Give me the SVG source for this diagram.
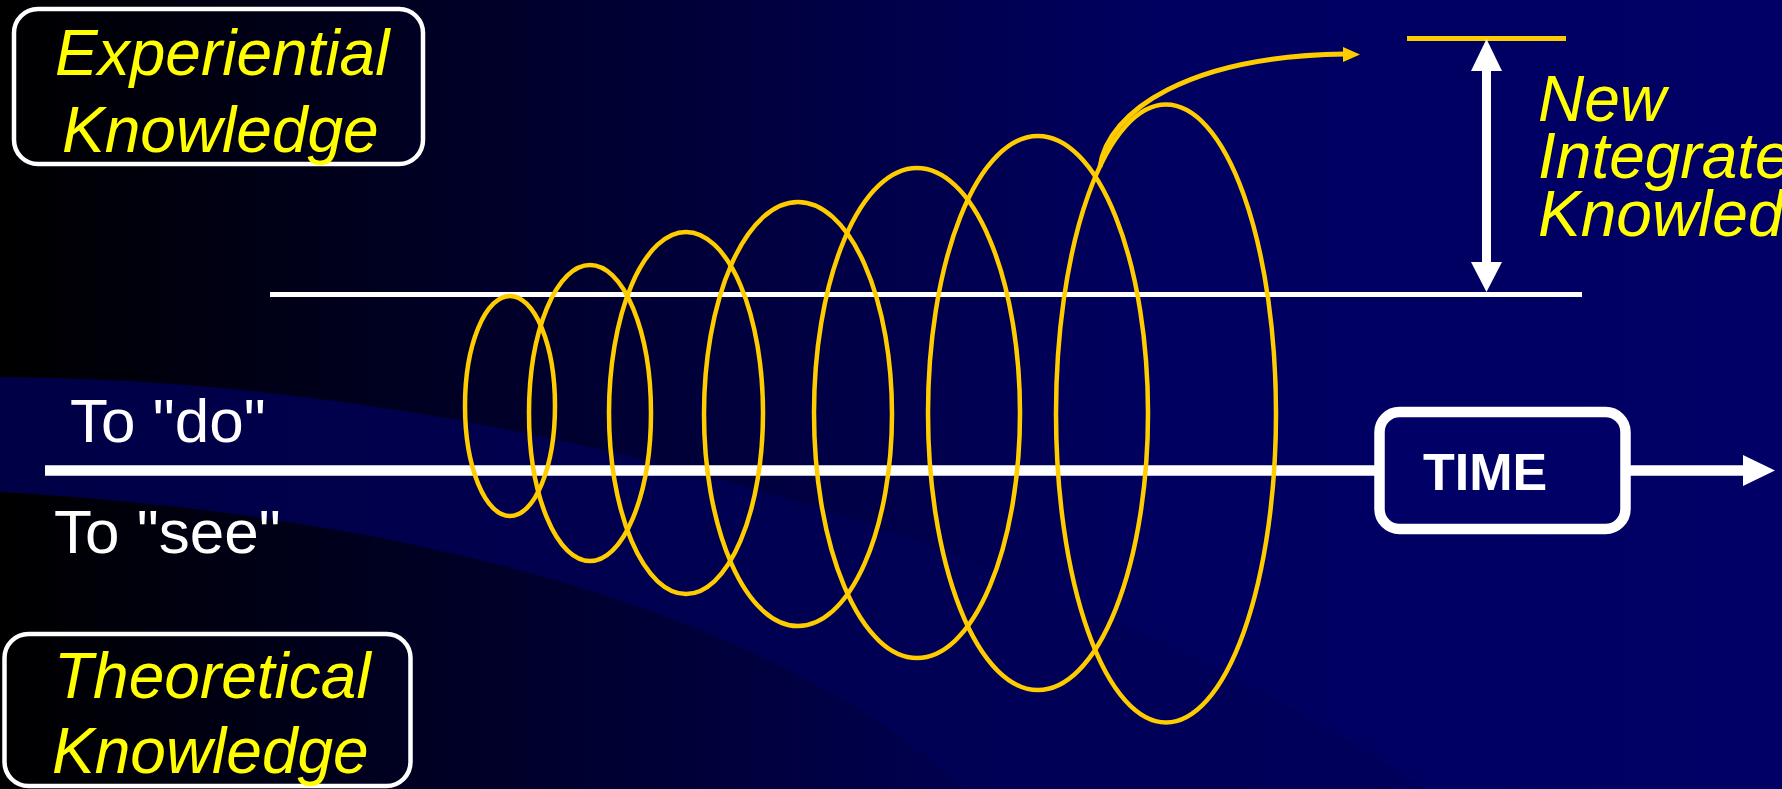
<svg xmlns="http://www.w3.org/2000/svg" width="1782" height="789" viewBox="0 0 1782 789">
<defs>
<linearGradient id="bg" x1="0" y1="0" x2="1" y2="0">
<stop offset="0" stop-color="#000000"/>
<stop offset="0.65" stop-color="#000060"/>
<stop offset="1" stop-color="#000066"/>
</linearGradient>
<linearGradient id="band" gradientUnits="userSpaceOnUse" x1="0" y1="0" x2="1426" y2="0">
<stop offset="0" stop-color="#000046"/>
<stop offset="1" stop-color="#00005c"/>
</linearGradient>
<style>
.spiral{fill:none;stroke:#FFCC00;stroke-width:4.5}
.box{fill:none;stroke:#FFFFFF;stroke-width:4.5}
.ytxt{fill:#FFFF00;font-family:"Liberation Sans",Arial,sans-serif;font-style:italic;font-size:64px}
.wtxt{fill:#FFFFFF;font-family:"Liberation Sans",Arial,sans-serif;font-size:62px}
</style>
</defs>
<rect x="0" y="0" width="1782" height="789" fill="url(#bg)"/>
<path d="M0,377 C500,380 1050,540 1426,789 L963,789 C820,650 500,520 0,492 Z" fill="url(#band)"/>

<g id="connectors">
<line x1="270" y1="294.5" x2="1582" y2="294.5" stroke="#FFFFFF" stroke-width="5"/>
<line x1="45" y1="470.5" x2="1745" y2="470.5" stroke="#FFFFFF" stroke-width="10.5"/>
<polygon points="1743,455 1775,470.5 1743,486" fill="#FFFFFF"/>
<line x1="1407" y1="38.5" x2="1566" y2="38.5" stroke="#FFCC00" stroke-width="5"/>
<line x1="1486.5" y1="68" x2="1486.5" y2="265" stroke="#FFFFFF" stroke-width="9"/>
<polygon points="1486.5,39 1471,71 1502,71" fill="#FFFFFF"/>
<polygon points="1471,262 1502,262 1486.5,292" fill="#FFFFFF"/>
</g>

<g id="spiral">
<ellipse class="spiral" cx="510" cy="406" rx="45" ry="110"/>
<ellipse class="spiral" cx="590" cy="413" rx="61" ry="148"/>
<ellipse class="spiral" cx="686" cy="413" rx="77" ry="181"/>
<ellipse class="spiral" cx="798" cy="414" rx="94" ry="212"/>
<ellipse class="spiral" cx="917" cy="413" rx="103" ry="245"/>
<ellipse class="spiral" cx="1038" cy="413" rx="110" ry="277"/>
<ellipse class="spiral" cx="1166" cy="413.5" rx="110" ry="309"/>
<path d="M1100,167 C1108,110 1190,56 1345,54" fill="none" stroke="#FFCC00" stroke-width="5"/>
<polygon points="1343,47 1360,54.5 1343,62" fill="#FFCC00"/>
</g>

<g id="experiential">
<rect class="box" x="14" y="9" width="409" height="155" rx="24"/>
<text class="ytxt" x="55" y="75">Experiential</text>
<text class="ytxt" x="62" y="152">Knowledge</text>
</g>

<g id="theoretical">
<rect class="box" x="4.5" y="634" width="406" height="152" rx="24"/>
<text class="ytxt" x="54" y="698">Theoretical</text>
<text class="ytxt" x="52" y="773">Knowledge</text>
</g>

<g id="todo">
<text class="wtxt" x="70" y="442">To "do"</text>
</g>
<g id="tosee">
<text class="wtxt" x="54" y="553">To "see"</text>
</g>

<g id="time">
<rect x="1379.5" y="412" width="246" height="117" rx="20" fill="#000066" stroke="#FFFFFF" stroke-width="10.5"/>
<text x="1423" y="490" fill="#FFFFFF" font-family="'Liberation Sans',Arial,sans-serif" font-weight="bold" font-size="52">TIME</text>
</g>

<g id="newknowledge">
<text class="ytxt" font-size="62" x="1538" y="121">New</text>
<text class="ytxt" font-size="62" x="1538" y="178">Integrated</text>
<text class="ytxt" font-size="62" x="1538" y="236">Knowledge</text>
</g>
</svg>
